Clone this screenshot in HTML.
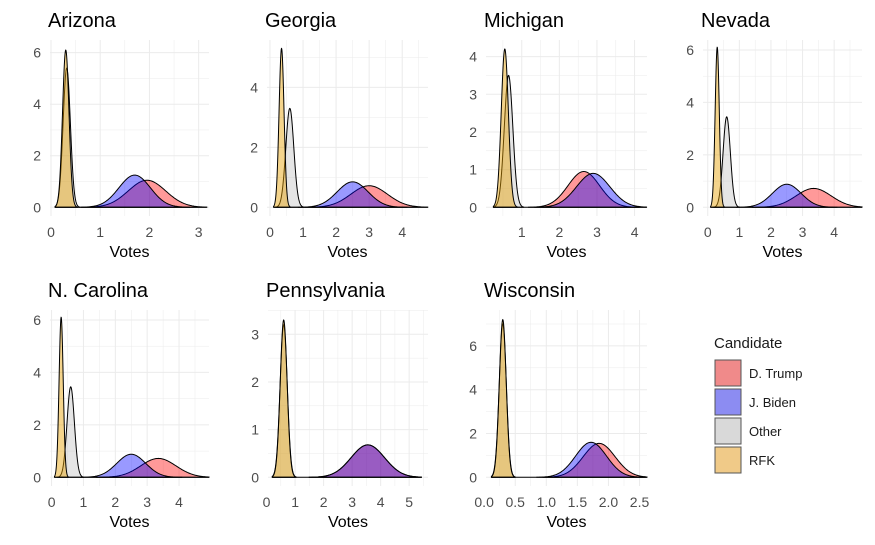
<!DOCTYPE html>
<html><head><meta charset="utf-8"><style>
html,body{margin:0;padding:0;background:#fff;}
svg text{font-family:"Liberation Sans",Arial,sans-serif;}
</style></head><body>
<svg id="chart" width="875" height="540" viewBox="0 0 875 540" xmlns="http://www.w3.org/2000/svg">
<g id="legend">
<text x="714" y="348" font-size="15" fill="#1a1a1a">Candidate</text>
<g><rect x="715" y="360" width="26" height="26" fill="#f08a8a" stroke="#555" stroke-width="1"/><text x="749" y="378" font-size="13" fill="#1a1a1a">D. Trump</text></g>
<g><rect x="715" y="389" width="26" height="26" fill="#8c8cf2" stroke="#555" stroke-width="1"/><text x="749" y="407" font-size="13" fill="#1a1a1a">J. Biden</text></g>
<g><rect x="715" y="418" width="26" height="26" fill="#d9d9d9" stroke="#555" stroke-width="1"/><text x="749" y="436" font-size="13" fill="#1a1a1a">Other</text></g>
<g><rect x="715" y="447" width="26" height="26" fill="#f0ca88" stroke="#555" stroke-width="1"/><text x="749" y="465" font-size="13" fill="#1a1a1a">RFK</text></g>
</g>
</svg>
<script>
const states = ["Arizona","Georgia","Michigan","Nevada","N. Carolina","Pennsylvania","Wisconsin"];
const candidates = ["D. Trump","J. Biden","Other","RFK"];
const trumpMean = [1.95,3.0,2.65,3.35,3.35,3.55,1.85];
const trumpPeak = [1.05,0.72,0.95,0.72,0.72,0.68,1.55];
const bidenMean = [1.7,2.5,2.9,2.5,2.5,3.55,1.72];
const bidenPeak = [1.25,0.85,0.9,0.88,0.88,0.68,1.6];
const otherMean = [0.32,0.6,0.65,0.6,0.6,0.6,0.3];
const otherPeak = [5.4,3.3,3.5,3.45,3.45,3.2,7.0];
const rfkMean = [0.3,0.35,0.55,0.3,0.3,0.6,0.3];
const rfkPeak = [6.1,5.3,4.2,6.1,6.1,3.3,7.2];
const xMin = [-0.02,-0.09,0.05,-0.15,-0.05,0.05,0.03];
const xMax = [3.21,4.78,4.33,4.88,4.94,5.66,2.62];
const yMax = [6.49,5.58,4.44,6.38,6.38,3.51,7.64];
const xTicks = [[0,1,2,3],[0,1,2,3,4],[1,2,3,4],[0,1,2,3,4],[0,1,2,3,4],[0,1,2,3,4,5],[0,0.5,1,1.5,2,2.5]];
const xTickLabels = [["0","1","2","3"],["0","1","2","3","4"],["1","2","3","4"],["0","1","2","3","4"],["0","1","2","3","4"],["0","1","2","3","4","5"],["0.0","0.5","1.0","1.5","2.0","2.5"]];
const yTicks = [[0,2,4,6],[0,2,4],[0,1,2,3,4],[0,2,4,6],[0,2,4,6],[0,1,2,3],[0,2,4,6]];

const fills = ["rgba(255,0,0,0.4)","rgba(0,0,255,0.4)","rgba(170,170,170,0.3)","rgba(230,159,0,0.45)"];
const panelLeft = [50,267,486,703,50,268,486];
const panelRight = [209,428,647,862,209,428,647];
const panelTop = [40,40,40,40,310,310,310];
const PH = 176;
const svg = document.getElementById('chart');
const NS = "http://www.w3.org/2000/svg";
function mk(tag, attrs, parent){const e=document.createElementNS(NS,tag);for(const k in attrs)e.setAttribute(k,attrs[k]);parent.appendChild(e);return e;}

states.forEach((st,i)=>{
  const L=panelLeft[i],R=panelRight[i],T=panelTop[i],B=T+PH;
  const yMin=-yMax[i]*0.052;
  const sx=v=>L+(v-xMin[i])/(xMax[i]-xMin[i])*(R-L);
  const sy=v=>B-(v-yMin)/(yMax[i]-yMin)*PH;
  const g=mk('g',{},svg);
  
  
  const xt=xTicks[i], yt=yTicks[i];
  const xs=xt[1]-xt[0], ys=yt[1]-yt[0];
  for(let v=xt[0]-xs/2; v<=xMax[i]; v+=xs/2){ if(v<xMin[i])continue; const ln=mk('line',{x1:sx(v),x2:sx(v),y1:T,y2:B,stroke:'#ebebeb','stroke-width':(Math.abs((v-xt[0])/xs-Math.round((v-xt[0])/xs))<1e-6)?1:0.5},g);  }
  for(let v=yt[0]; v<=yMax[i]; v+=ys/2){ const ln=mk('line',{x1:L,x2:R,y1:sy(v),y2:sy(v),stroke:'#ebebeb','stroke-width':(Math.abs((v-yt[0])/ys-Math.round((v-yt[0])/ys))<1e-6)?1:0.5},g);  }
  xt.forEach((v,j)=>{const t=mk('text',{x:sx(v),y:B+21,'font-size':14,fill:'#4d4d4d','text-anchor':'middle'},g);t.textContent=xTickLabels[i][j];});
  yt.forEach(v=>{const t=mk('text',{x:L-9,y:sy(v)+5,'font-size':14,fill:'#4d4d4d','text-anchor':'end'},g);t.textContent=String(v);});
  const title=mk('text',{x:L-2,y:T-13,'font-size':20,fill:'#000'},g);title.textContent=st;
  
  const xl=mk('text',{x:(L+R)/2,y:B+41,'font-size':16,fill:'#000','text-anchor':'middle'},g);xl.textContent='Votes';
  
  const means=[trumpMean[i],bidenMean[i],otherMean[i],rfkMean[i]];
  const peaks=[trumpPeak[i],bidenPeak[i],otherPeak[i],rfkPeak[i]];
  let lo=1e9,hi=-1e9;
  means.forEach((m,k)=>{const sd=1/(peaks[k]*2.5066);lo=Math.min(lo,m-3.2*sd);hi=Math.max(hi,m+3.2*sd);});
  lo=Math.max(lo,xMin[i]); hi=Math.min(hi,xMax[i]);
  means.forEach((m,k)=>{
    const sd=1/(peaks[k]*2.5066);
    const a=Math.max(lo,m-3.5*sd), b=Math.min(hi,m+3.5*sd);
    let d='M'+sx(a).toFixed(2)+','+sy(0).toFixed(2);
    const n=120;
    for(let s=0;s<=n;s++){const x=a+(b-a)*s/n;const y=peaks[k]*Math.exp(-0.5*((x-m)/sd)**2);d+=' L'+sx(x).toFixed(2)+','+sy(y).toFixed(2);}
    d+=' L'+sx(b).toFixed(2)+','+sy(0).toFixed(2)+' Z';
    const p=mk('path',{d:d,fill:fills[k],stroke:'#000','stroke-width':1},g);
    
    
  });
  const base=mk('line',{x1:sx(lo),x2:sx(hi),y1:sy(0),y2:sy(0),stroke:'#000','stroke-width':1},g);
  
});
svg.appendChild(document.getElementById('legend'));
</script>
</body></html>
